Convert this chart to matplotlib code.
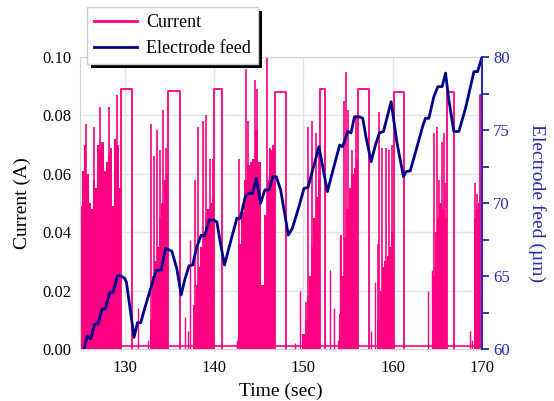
import numpy as np
import matplotlib
matplotlib.use("Agg")
import matplotlib.pyplot as plt
from matplotlib.ticker import MultipleLocator
from matplotlib.patches import Rectangle

plt.rcParams["font.family"] = ["Liberation Serif", "DejaVu Serif"]

PINK = "#ff0080"
NAVY = "#00008b"
AXBLUE = "#2a2aae"

# dense bursts of current: start, end and the filled level of each step
burst_start = [125.0, 132.8, 137.7, 142.7, 149.9, 154.0, 158.3, 164.45, 169.15]
burst_end = [129.56, 134.9, 140.05, 146.85, 151.87, 156.17, 160.1, 166.03, 169.75]
burst_levels = [
    [0.049, 0.061, 0.070, 0.060, 0.050, 0.048, 0.058, 0.055, 0.070, 0.068,
     0.071, 0.061, 0.064, 0.066, 0.069, 0.049, 0.072, 0.070, 0.055],
    [0.010, 0.025, 0.030, 0.035, 0.045, 0.050, 0.058, 0.060],
    [0.015, 0.022, 0.028, 0.035, 0.040, 0.045, 0.048, 0.050, 0.052],
    [0.036, 0.047, 0.058, 0.063, 0.064, 0.065, 0.075, 0.064, 0.022, 0.046,
     0.058, 0.068, 0.070],
    [0.005, 0.010, 0.018, 0.025, 0.035, 0.045, 0.052, 0.058],
    [0.012, 0.025, 0.038, 0.048, 0.055, 0.060, 0.062, 0.065],
    [0.010, 0.020, 0.028, 0.030, 0.032, 0.035, 0.040],
    [0.025, 0.040, 0.045, 0.050, 0.048, 0.045],
    [0.045, 0.048, 0.050],
]

# tall single spikes
spike_t = [125.67, 126.57, 127.24, 128.25, 129.15,
           132.96, 133.3, 133.63, 133.93, 134.3, 134.6,
           137.87, 138.23, 138.79, 139.13, 139.55, 139.9,
           142.8, 143.61, 143.83, 144.62, 144.84, 145.93, 146.3,
           150.27, 150.56, 151.0, 151.4, 151.7,
           154.2, 154.6, 154.78, 154.97, 155.5, 155.87,
           158.35, 158.52, 158.82, 159.2, 159.57, 159.9,
           164.61, 164.98, 165.17, 165.47, 165.73, 165.85,
           169.17, 169.4]
spike_v = [0.077, 0.076, 0.083, 0.083, 0.087,
           0.077, 0.066, 0.075, 0.068, 0.082, 0.069,
           0.058, 0.076, 0.078, 0.080, 0.065, 0.065,
           0.065, 0.096, 0.078, 0.092, 0.089, 0.101, 0.069,
           0.016, 0.076, 0.078, 0.074, 0.068,
           0.039, 0.085, 0.095, 0.082, 0.068, 0.080,
           0.036, 0.081, 0.069, 0.069, 0.068, 0.070,
           0.074, 0.076, 0.058, 0.071, 0.074, 0.057,
           0.057, 0.053]

# small spikes in the quiet stretches
small_t = [131.5, 132.6, 136.77, 137.1, 137.33, 142.6, 149.1, 149.6,
           152.93, 153.42, 153.9, 154.05, 157.59, 158.04, 163.9, 164.35,
           168.65, 168.9]
small_v = [0.014, 0.003, 0.011, 0.006, 0.0375, 0.003, 0.002, 0.020,
           0.027, 0.014, 0.003, 0.039, 0.006, 0.023, 0.020, 0.027,
           0.006, 0.003]

# flat pulses
plateau_start = [129.56, 134.9, 140.05, 146.85, 151.87, 156.17, 160.1, 166.03, 169.75]
plateau_end = [130.87, 136.2, 140.95, 148.1, 152.43, 157.4, 161.3, 166.85, 170.0]
plateau_level = [0.089, 0.0885, 0.089, 0.088, 0.089, 0.089, 0.088, 0.088, 0.087]
base_level = 0.001

# electrode feed (um)
feed_t = [125.45, 125.82, 126.2, 126.64, 127.02, 127.47, 127.84, 128.33, 128.7,
          129.19, 129.56, 130.0, 130.2, 131.05, 131.43, 131.8, 132.25, 133.18,
          133.56, 134.1, 134.57, 134.9, 135.28, 135.84, 136.32, 136.77, 137.2,
          137.6, 138.08, 138.57, 138.94, 139.47, 139.95, 140.32, 140.69, 141.18,
          141.7, 142.56, 142.94, 143.5, 143.87, 144.32, 144.73, 145.21, 145.7,
          146.15, 146.6, 146.97, 147.46, 148.32, 148.77, 149.51, 150.07, 150.52,
          151.75, 152.69, 153.43, 154.07, 154.4, 154.97, 155.34, 155.72, 156.28,
          156.65, 157.02, 157.59, 158.07, 158.52, 158.97, 159.83, 160.46, 161.21,
          161.51, 161.96, 162.63, 163.38, 163.67, 164.05, 164.61, 165.06, 165.54,
          165.92, 166.29, 166.85, 167.41, 168.16, 169.1, 169.5, 170.0]
feed_v = [60.0, 60.91, 60.68, 61.71, 61.71, 62.74, 62.74, 63.88, 63.88,
          65.02, 65.02, 64.84, 64.57, 60.8, 61.8, 61.8, 62.8, 64.7,
          65.4, 65.4, 66.9, 66.8, 66.7, 65.5, 63.7, 64.84, 65.7,
          65.75, 67.0, 67.8, 67.74, 68.84, 68.84, 68.7, 67.35, 65.75,
          67.0, 68.95, 68.95, 70.43, 70.66, 70.66, 71.7, 69.98, 70.9,
          70.9, 71.8, 71.8, 70.9, 67.8, 68.27, 69.75, 71.0, 71.07,
          73.86, 70.78, 72.5, 73.97, 73.86, 74.9, 74.8, 75.9, 75.9,
          75.8, 74.5, 72.83, 73.97, 74.8, 74.9, 76.94, 74.2, 71.8,
          72.15, 72.2, 73.63, 75.3, 75.8, 75.8, 77.28, 77.97, 77.97,
          78.9, 77.05, 74.9, 74.9, 76.5, 79.0, 79.0, 80.0]

fig = plt.figure(figsize=(5.54, 4.01), dpi=100)
ax = fig.add_axes([80 / 554, 1 - 349 / 401, 402 / 554, 292 / 401])

ax.grid(True, color="#e4e4e4", lw=1)
ax.set_axisbelow(True)

cur_line, = ax.plot([125, 170], [base_level, base_level], color=PINK, lw=1.2,
                    label="Current")
for b0, b1, lv in zip(burst_start, burst_end, burst_levels):
    edges = np.linspace(b0, b1, len(lv) + 1)
    ax.fill_between(edges, np.append(lv, lv[-1]), 0, step="post",
                    color=PINK, lw=0)
ax.vlines(spike_t, 0, spike_v, color=PINK, lw=1.2)
ax.vlines(small_t, 0, small_v, color=PINK, lw=1.0)
for s, e, lvl in zip(plateau_start, plateau_end, plateau_level):
    ax.plot([s, s, e, e], [0, lvl, lvl, 0], color=PINK, lw=1.3)

ax.set_xlim(125, 170)
ax.set_ylim(0, 0.10)
ax.set_xticks([130, 140, 150, 160, 170])
ax.set_yticks([0, 0.02, 0.04, 0.06, 0.08, 0.10])
ax.yaxis.set_major_formatter(lambda v, p: f"{v:.2f}")
ax.tick_params(length=0, labelsize=12)
ax.tick_params(axis="x", pad=8)
ax.tick_params(axis="y", pad=6)
for side in ["left", "top", "bottom"]:
    ax.spines[side].set_color("#d4d4d4")
ax.spines["right"].set_visible(False)
ax.set_xlabel("Time (sec)", fontsize=14, labelpad=5)
ax.set_ylabel("Current (A)", fontsize=14, labelpad=8)

ax2 = ax.twinx()
feed_line, = ax2.plot(feed_t, feed_v, color=NAVY, lw=2, label="Electrode feed")
ax2.set_ylim(60, 80)
ax2.yaxis.set_major_locator(MultipleLocator(5))
ax2.yaxis.set_minor_locator(MultipleLocator(2.5))
ax2.tick_params(axis="y", which="both", direction="out", length=5, width=1.3,
                color=AXBLUE, labelcolor=AXBLUE, labelsize=12, pad=3)
for side in ["left", "top", "bottom"]:
    ax2.spines[side].set_visible(False)
ax2.spines["right"].set_color(AXBLUE)
ax2.spines["right"].set_linewidth(1.5)
ax2.set_ylabel("Electrode feed (\u00b5m)", fontsize=14, color=AXBLUE,
               rotation=270, labelpad=26)

leg = ax2.legend([cur_line, feed_line], ["Current", "Electrode feed"],
                 loc="upper left", bbox_to_anchor=(87 / 554, 1 - 7 / 401),
                 bbox_transform=fig.transFigure, borderaxespad=0,
                 fancybox=False, edgecolor="#d0d0d0", framealpha=1,
                 fontsize=13, handlelength=2.4, borderpad=0.38,
                 labelspacing=0.5, handletextpad=0.5)
leg.get_frame().set_linewidth(1)
leg.set_zorder(6)
for h in leg.legend_handles:
    h.set_linewidth(2)

# solid black drop shadow behind the legend box
fig.canvas.draw()
bb = leg.get_window_extent()
ax2.add_patch(Rectangle((bb.x0 + 4, bb.y0 - 4), bb.width, bb.height,
                        transform=None, facecolor="black", edgecolor="none",
                        clip_on=False, zorder=5.9))

fig.savefig("out.png", dpi=100)
